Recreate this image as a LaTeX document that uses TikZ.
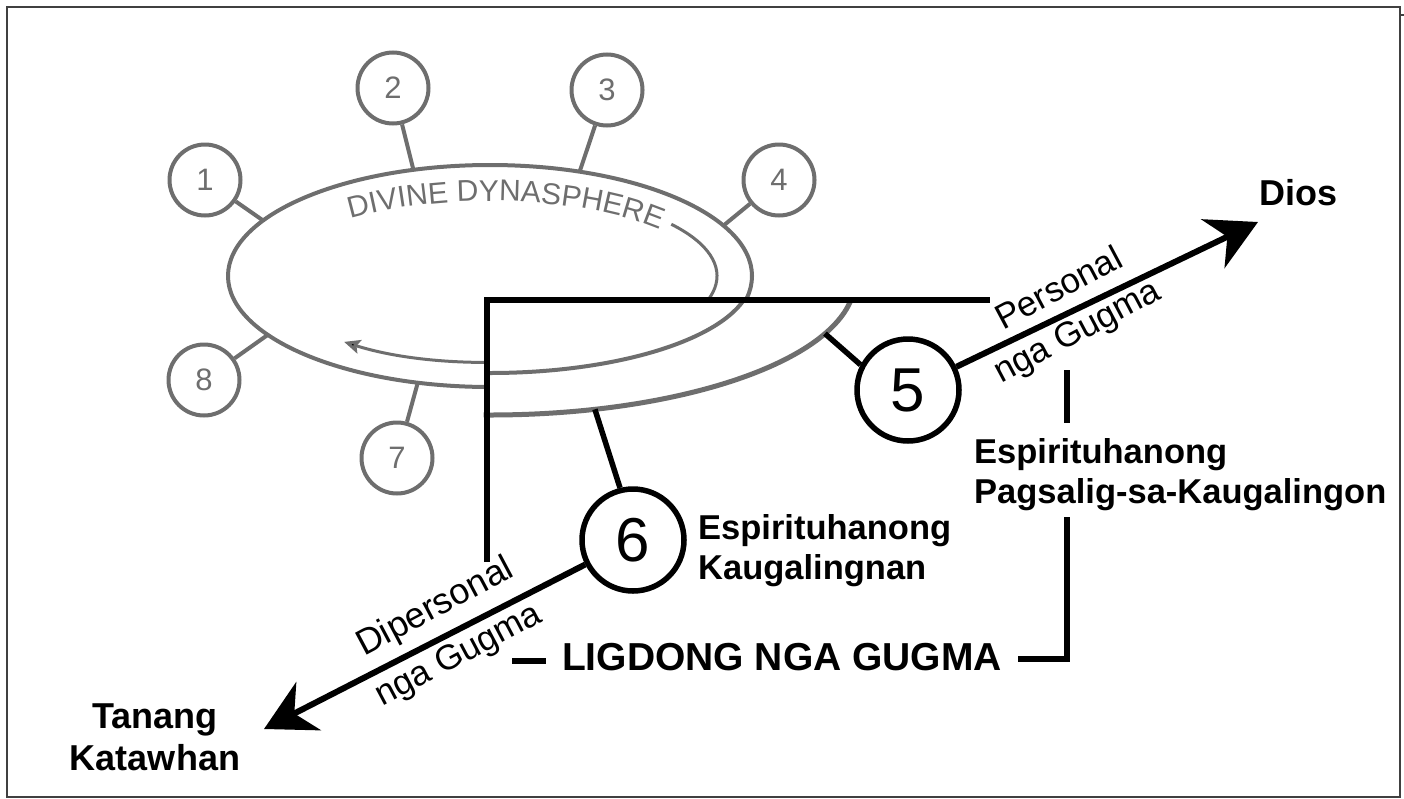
\documentclass[tikz,border=0pt]{standalone}
\usepackage{fontspec}
\setmainfont{Liberation Sans}
\usetikzlibrary{arrows.meta,decorations.text,calc}
\definecolor{ring}{HTML}{6E6E6E}
\begin{document}
\begin{tikzpicture}[x=1pt,y=-1pt,
  gray ring/.style={draw=ring, line width=4pt},
  small circ/.style={circle, draw=ring, line width=4pt, fill=white, minimum size=71pt, inner sep=0pt, text=ring, font=\fontsize{31}{33}\selectfont},
  big circ/.style={circle, draw=black, line width=5.5pt, fill=white, minimum size=102pt, inner sep=0pt, font=\fontsize{62}{64}\selectfont},
  heavy/.style={line width=6pt, draw=black},
  lbl/.style={font=\bfseries\fontsize{34.5}{40}\selectfont, align=left, inner sep=0pt},
  rlbl/.style={font=\fontsize{35}{38}\selectfont, inner sep=0pt, rotate=28},
  bigarrow/.style={heavy, -{Stealth[length=50pt,width=54pt,inset=16pt]}},
]
\path[use as bounding box] (0,0) rectangle (1404,798);
\draw[line width=2pt, black!75] (7,7) rectangle (1400,797);
\draw[line width=1.5pt, black!75] (1400,15) -- (1404,15);

% dynasphere
\coordinate (C) at (490,276);
\coordinate (L) at (490,280);
\coordinate (T) at (490,281);
\draw[gray ring] (C) ellipse [x radius=262, y radius=111];
\path[decorate, decoration={text along path, text align=left, text color=ring,
  text={|\fontsize{30}{32}\selectfont|DIVINE DYNASPHERE}}]
  ($(T)+(231:222 and 80)$) arc[start angle=231, end angle=345, x radius=222, y radius=80];
\draw[draw=ring, line width=3pt, -{Stealth[length=16pt,width=14pt,inset=3pt]}]
  ($(C)+(-37:227 and 86)$) arc[start angle=-37, end angle=130, x radius=227, y radius=86];

% front flap
\fill[white] (487,300) -- ($(L)+(8.5:365 and 135)$) arc[start angle=8.5, end angle=90, x radius=365, y radius=135] -- (487,415) -- cycle;
\draw[gray ring] ($(C)+(14.3:262 and 97)$) arc[start angle=14.3, end angle=91, x radius=262, y radius=97];
\draw[draw=ring, line width=5pt] ($(L)+(8.5:365 and 135)$) arc[start angle=8.5, end angle=91, x radius=365, y radius=135];

% small circles
\node[small circ] (c1) at (205,180) {1};
\node[small circ] (c2) at (393,88) {2};
\node[small circ] (c3) at (607,90) {3};
\node[small circ] (c4) at (779,180) {4};
\node[small circ] (c8) at (204,380) {8};
\node[small circ] (c7) at (397,458) {7};
\coordinate (e1) at ($(C)+(210:262 and 111)$);
\coordinate (e2) at ($(C)+(253:262 and 111)$);
\coordinate (e3) at ($(C)+(290:262 and 111)$);
\coordinate (e4) at ($(C)+(333:262 and 111)$);
\coordinate (e8) at ($(C)+(148:262 and 111)$);
\coordinate (e7) at ($(C)+(106:262 and 111)$);
\foreach \i in {1,2,3,4,8,7} { \draw[gray ring] (e\i) -- (c\i); }

% black L frame
\coordinate (Lb) at (487,562);
\coordinate (Lc) at (487,300);
\coordinate (Lr) at (990,300);
\draw[heavy, line join=miter] (Lb) -- (Lc) -- (Lr);

% big circles
\coordinate (p5) at ($(L)+(23.4:365 and 135)$);
\coordinate (p6) at ($(L)+(73.3:365 and 135)$);
\node[big circ] (n5) at (908,390) {5};
\node[big circ] (n6) at (633,540) {6};
\draw[line width=5.5pt] (p5) -- (n5.152);
\draw[line width=5.5pt] (p6) -- (n6.104);

% arrows
\coordinate (tipD) at (1258,222);
\coordinate (tipT) at (264,729);
\draw[bigarrow] (n5) -- (tipD);
\draw[bigarrow] (n6) -- (tipT);

% labels
\node[lbl, font=\bfseries\fontsize{36}{40}\selectfont, anchor=base west] (dios) at (1259,205) {Dios};
\node[lbl, font=\bfseries\fontsize{36}{42}\selectfont, align=center, anchor=north] (tk) at (155,704) {Tanang\\Katawhan};
\node[lbl, anchor=north west] (ek) at (698,514) {Espirituhanong\\Kaugalingnan};
\node[lbl, anchor=north west] (ep) at (974,438) {Espirituhanong\\Pagsalig-sa-Kaugalingon};
\node[font=\bfseries\fontsize{39}{41}\selectfont, inner sep=0pt, anchor=base] (lig) at (782,670) {LIGDONG NGA GUGMA};

\node[rlbl, anchor=base] (pers) at (1064,298) {Personal};
\node[rlbl, anchor=base] (ng1) at (1082,341) {nga Gugma};
\node[rlbl, font=\fontsize{36}{38}\selectfont, anchor=base] (dip) at (440,616) {Dipersonal};
\node[rlbl, anchor=base] (ng2) at (463,664) {nga Gugma};

% bracket
\coordinate (b1) at (1018,659);
\coordinate (b2) at (1067,659);
\coordinate (b3) at (1067,517);
\coordinate (b4) at (1067,370);
\coordinate (b5) at (1067,423);
\coordinate (b6) at (512,661);
\coordinate (b7) at (546,661);
\draw[heavy, line join=miter] (b1) -- (b2) -- (b3);
\draw[heavy] (b4) -- (b5);
\draw[heavy] (b6) -- (b7);
\end{tikzpicture}
\end{document}
